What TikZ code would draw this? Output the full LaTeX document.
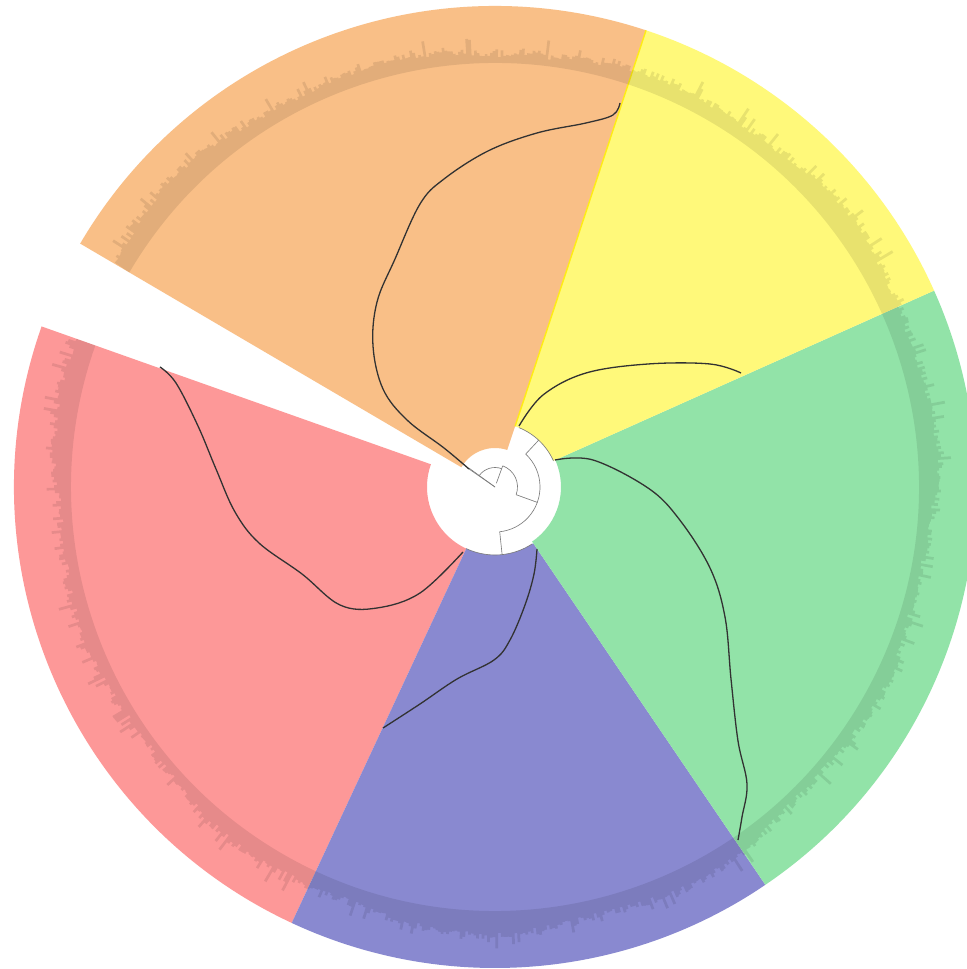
\documentclass[tikz,border=0pt]{standalone}
\definecolor{cOrange}{RGB}{249,191,135}
\definecolor{cYellow}{RGB}{255,249,122}
\definecolor{cYellowEdge}{RGB}{255,236,20}
\definecolor{cGreen}{RGB}{146,227,168}
\definecolor{cBlue}{RGB}{137,137,208}
\definecolor{cRed}{RGB}{253,152,152}
\definecolor{treeline}{RGB}{50,50,50}
\definecolor{innerline}{RGB}{125,125,125}
\tikzset{
  cladecurve/.style={draw=treeline, line width=0.26pt, line join=round},
  innertree/.style={draw=innerline, line width=0.13pt},
  bandfill/.style={fill=black, fill opacity=0.09},
}
\newcommand{\annsector}[4]{%
  \fill[#1] (#2:481) arc[start angle=#2, end angle=#3, radius=481]
    -- (#3:#4) arc[start angle=#3, end angle=#2, radius=#4] -- cycle;}
\begin{document}
\begin{tikzpicture}[x=0.2pt,y=0.2pt]
\useasboundingbox (-495,-482) rectangle (472,487);
\fill[white] (-495,-482) rectangle (472,487);
% coloured clade ranges
\annsector{cRed}{160.5}{245}{68}
\annsector{cBlue}{245}{304.2}{68}
\annsector{cGreen}{-55.8}{24.1}{66}
\annsector{cYellow}{24.1}{71.7}{64}
\annsector{cOrange}{71.7}{149.6}{39}
\draw[cYellowEdge, line width=0.28pt] (71.7:64) -- (71.7:481);
% bar chart band
\pgfmathsetseed{12}
\path[bandfill] (160.5:424)
  \foreach \i [evaluate=\i as \a using {160.5+0.35*\i},
               evaluate=\i as \h using {437+5*sin(3*\a)+3*sin(11*\a+40)+7*rnd+15*rnd^10}]
     in {0,...,996} { -- (\a:\h) -- ({\a+0.35}:\h) }
  -- (509.6:424) arc[start angle=509.6, end angle=160.5, radius=424] -- cycle;
% inner tree
\coordinate (root) at (0,0);
\draw[innertree] (root) -- (144:32);
\draw[innertree] (70:4) -- (70:22.5);
\draw[innertree] (70:19.5) arc[start angle=70, end angle=144, radius=19.5];
\draw[innertree] (70:22.5) arc[start angle=70, end angle=-20, radius=22.5];
\draw[innertree] (-20:22.5) -- (-20:45);
\draw[innertree] (47:45) arc[start angle=47, end angle=-84, radius=45];
\draw[innertree] (47:45) -- (47:64);
\draw[innertree] (24:64) arc[start angle=24, end angle=68, radius=64];
\draw[innertree] (-84:45) -- (-84:68);
\draw[innertree] (-57:68) arc[start angle=-57, end angle=-115, radius=68];
% clade curves
\draw[cladecurve] plot[smooth, tension=0.6] coordinates {
  (-26,18) (-51,39) (-88,67) (-112,98) (-122,141) (-118,185) (-100,228)
  (-75,283) (-51,308) (-7,336) (42,354) (91,364) (118,372) (125,384)};
\draw[innertree] (root) -- (-26,18);
\draw[cladecurve] plot[smooth, tension=0.6] coordinates {
  (-32,-65) (-75,-106) (-118,-121) (-155,-118) (-193,-87) (-236,-56)
  (-260,-25) (-279,18) (-297,61) (-319,104) (-335,120)};
\draw[cladecurve] plot[smooth, tension=0.6] coordinates {
  (42,-62) (39,-87) (30,-118) (15,-153) (-1,-173) (-38,-192) (-75,-217) (-112,-241)};
\draw[cladecurve] plot[smooth, tension=0.6] coordinates {
  (60,27) (98,27) (153,-1) (184,-32) (215,-81) (230,-130) (236,-192)
  (243,-254) (252,-297) (247,-330) (243,-353)};
\draw[cladecurve] plot[smooth, tension=0.6] coordinates {
  (24,61) (48,92) (91,114) (153,123) (215,123) (246,114)};
\end{tikzpicture}
\end{document}
